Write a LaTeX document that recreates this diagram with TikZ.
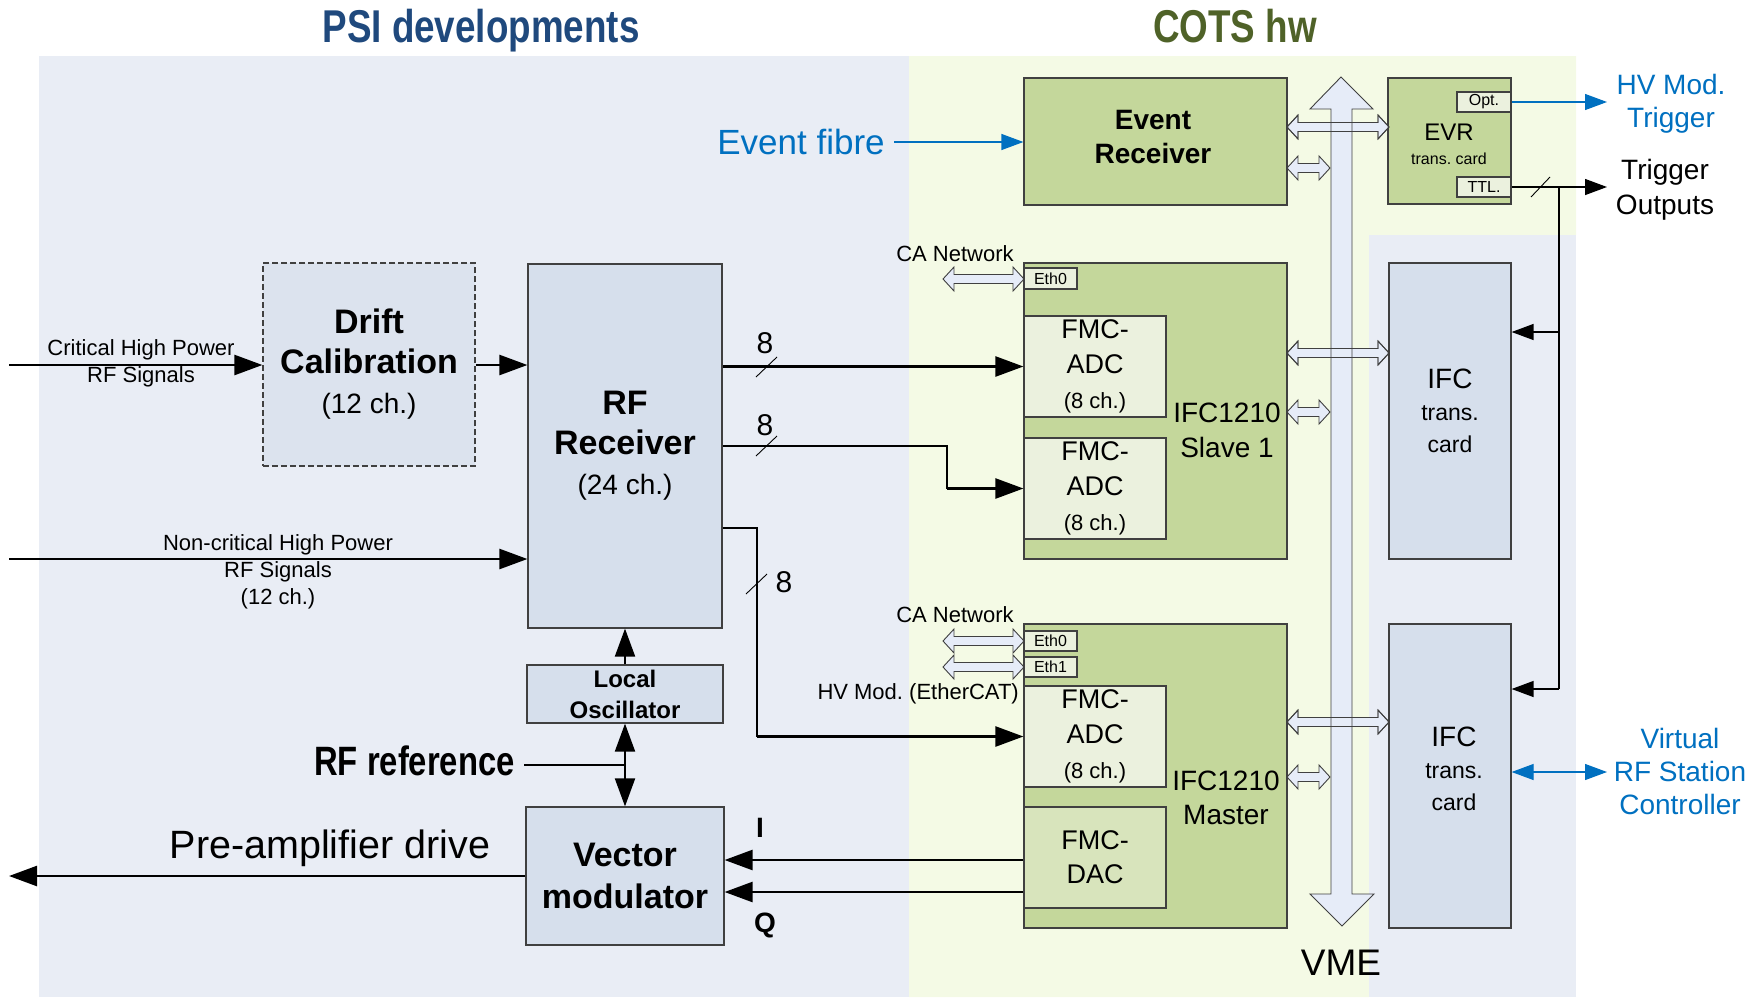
\documentclass[tikz,border=0pt]{standalone}
\usepackage{fontspec}
\setmainfont{Liberation Sans}
\newfontfamily\narrowf[FakeStretch=0.8]{Liberation Sans}
\usetikzlibrary{arrows.meta}
\definecolor{psibg}{RGB}{233,237,245}
\definecolor{cotsbg}{RGB}{244,250,229}
\definecolor{bluebox}{RGB}{214,223,236}
\definecolor{driftbox}{RGB}{220,227,238}
\definecolor{greenbox}{RGB}{196,215,155}
\definecolor{lightgreen}{RGB}{235,241,222}
\definecolor{dacgreen}{RGB}{216,228,188}
\definecolor{arrowfill}{RGB}{230,236,248}
\definecolor{blueline}{RGB}{0,112,192}
\definecolor{titleblue}{RGB}{31,73,125}
\definecolor{titlegreen}{RGB}{79,98,40}
\definecolor{boxline}{RGB}{64,64,64}
\newcommand\fsz[2]{\fontsize{#1}{#2}\selectfont}
\newcommand\hdarrow[4][]{\draw[hollow,#1] (#2,#4) -- (#2+11,#4-12) -- (#2+11,#4-4.5) -- (#3-11,#4-4.5) -- (#3-11,#4-12) -- (#3,#4) -- (#3-11,#4+12) -- (#3-11,#4+4.5) -- (#2+11,#4+4.5) -- (#2+11,#4+12) -- cycle;}
\tikzset{
  box/.style={draw=boxline, line width=1.2pt, inner sep=0pt, align=center},
  bbox/.style={box, fill=bluebox},
  gbox/.style={box, fill=greenbox},
  lbox/.style={box, fill=lightgreen},
  >={Triangle[length=28pt,width=20pt]},
  sig/.style={line width=2.5pt, ->},
  sigline/.style={line width=2.5pt},
  tl/.style={line width=1.3pt, -{Triangle[length=22pt,width=16pt]}},
  bl/.style={draw=blueline, line width=1.2pt, -{Triangle[length=22pt,width=16pt]}},
  hollow/.style={draw=boxline, line width=0.9pt, fill=arrowfill, line join=miter},
  lbl/.style={inner sep=0pt, align=center},
  slash/.style={line width=0.9pt},
}
\frenchspacing
\begin{document}
\begin{tikzpicture}[x=1pt,y=-1pt]
\useasboundingbox (0,0) rectangle (1754,997);
% backgrounds
\fill[psibg] (39,56) rectangle (909,997);
\fill[cotsbg] (909,56) -- (1576,56) -- (1576,235) -- (1369,235) -- (1369,997) -- (909,997) -- cycle;
\fill[psibg] (1369,235) rectangle (1576,997);
% titles
\node[lbl, anchor=base, text=titleblue, font=\narrowf\bfseries\fsz{46}{50}] (t1) at (481,42) {PSI developments};
\node[lbl, anchor=base, text=titlegreen, font=\narrowf\bfseries\fsz{46}{50}] (t2) at (1235,42) {COTS hw};

% COTS boxes
\node[gbox, minimum width=263pt, minimum height=127pt] (er) at (1155.5,141.5) {};
\node[lbl, font=\bfseries\fsz{28}{34}] (ert) at (1153,137) {Event\\Receiver};
\node[gbox, minimum width=123pt, minimum height=126pt] (evr) at (1449.5,141) {};
\node[lbl, font=\fsz{24}{28}] (evrt) at (1449,132) {EVR};
\node[lbl, font=\fsz{16}{20}] (evrt2) at (1449,159) {trans. card};
\node[lbox, minimum width=54pt, minimum height=20pt, font=\fsz{16}{18}] (opt) at (1484,102) {Opt.};
\node[lbox, minimum width=54pt, minimum height=20pt, font=\fsz{16}{18}] (ttl) at (1484,187) {TTL.};

\node[gbox, minimum width=263pt, minimum height=296pt] (slave) at (1155.5,411) {};
\node[lbox, minimum width=53pt, minimum height=21pt, font=\fsz{16}{18}] (eths) at (1050.5,278.5) {Eth0};
\node[lbox, minimum width=142pt, minimum height=101pt, font=\fsz{27}{35}] (adc1) at (1095,366.5) {FMC-\\ADC\\{\fsz{22}{35}(8 ch.)}};
\node[lbox, minimum width=142pt, minimum height=101pt, font=\fsz{27}{35}] (adc2) at (1095,488.5) {FMC-\\ADC\\{\fsz{22}{35}(8 ch.)}};
\node[lbl, font=\fsz{28}{35}] (slavet) at (1227,430) {IFC1210\\Slave 1};

\node[gbox, minimum width=263pt, minimum height=304pt] (master) at (1155.5,776) {};
\node[lbox, minimum width=53pt, minimum height=20pt, font=\fsz{16}{18}] (ethm0) at (1050.5,641) {Eth0};
\node[lbox, minimum width=53pt, minimum height=20pt, font=\fsz{16}{18}] (ethm1) at (1050.5,667) {Eth1};
\node[lbox, minimum width=142pt, minimum height=101pt, font=\fsz{27}{35}] (adc3) at (1095,736.5) {FMC-\\ADC\\{\fsz{22}{35}(8 ch.)}};
\node[box, fill=dacgreen, minimum width=142pt, minimum height=101pt, font=\fsz{27}{34}] (dac) at (1095,857.5) {FMC-\\DAC};
\node[lbl, font=\fsz{28}{34}] (mastert) at (1226,798) {IFC1210\\Master};

\node[bbox, minimum width=122pt, minimum height=296pt, font=\fsz{23}{32}] (ifc1) at (1450,411) {{\fsz{28}{32}IFC}\\trans.\\card};
\node[bbox, minimum width=122pt, minimum height=304pt] (ifc2) at (1450,776) {};
\node[lbl, font=\fsz{23}{32}] (ifc2t) at (1454,769) {{\fsz{28}{32}IFC}\\trans.\\card};

% PSI boxes
\node[bbox, minimum width=194pt, minimum height=364pt, font=\fsz{28}{40}] (rf) at (625,446) {{\bfseries\fsz{34}{40}RF}\\{\bfseries\fsz{34}{40}Receiver}\\(24 ch.)};
\node[box, fill=driftbox, dashed, dash pattern=on 6pt off 3pt, minimum width=212pt, minimum height=203pt, font=\fsz{28}{40}] (drift) at (369,364.5) {{\bfseries\fsz{34}{40}Drift}\\{\bfseries\fsz{34}{40}Calibration}\\(12 ch.)};
\node[bbox, minimum width=196pt, minimum height=58pt, font=\bfseries\fsz{24}{31}] (lo) at (625,694) {Local\\Oscillator};
\node[bbox, minimum width=198pt, minimum height=138pt, font=\bfseries\fsz{34}{42}] (vm) at (625,876) {Vector\\modulator};

% hollow arrows (short)
\hdarrow{1287}{1330}{168}
\hdarrow{943}{1024}{279}
\hdarrow{1287}{1330}{412}
\hdarrow{943}{1024}{641}
\hdarrow{943}{1024}{667}
\hdarrow{1287}{1330}{777}
% hollow arrows (long, across bus)
\hdarrow{1287}{1389}{127}
\hdarrow{1287}{1389}{353}
\hdarrow{1287}{1389}{722}
% VME bus
\draw[hollow] (1341,77) -- (1373,109) -- (1352,109) -- (1352,894) -- (1374,894) -- (1342,926) -- (1310,894) -- (1331,894) -- (1331,109) -- (1310,109) -- cycle;
\hdarrow[fill=none]{1287}{1389}{127}
\hdarrow[fill=none]{1287}{1389}{353}
\hdarrow[fill=none]{1287}{1389}{722}
\node[lbl, font=\fsz{37}{40}] (vme) at (1341,963) {VME};

% labels near Ethernet ports
\node[lbl, font=\fsz{22}{26}] (ca1) at (955,254) {CA Network};
\node[lbl, font=\fsz{22}{26}] (ca2) at (955,615) {CA Network};
\node[lbl, font=\fsz{22}{26}, anchor=east] (hvcat) at (1019,694) {HV Mod. (EtherCAT)};

% input signals
\coordinate (critin) at (9,365);
\coordinate (ncritin) at (9,559);
\draw[sig] (critin) -- (critin -| drift.west);
\node[lbl, font=\fsz{22}{27}] (critl) at (141,363) {Critical High Power\\RF Signals};
\draw[sig] (drift.east |- critin) -- (critin -| rf.west);
\draw[sig] (ncritin) -- (ncritin -| rf.west);
\node[lbl, font=\fsz{22}{27}] (ncritl) at (278,572) {Non-critical High Power\\RF Signals\\(12 ch.)};

% RF receiver to FMC-ADCs
\draw[sig] (rf.east |- adc1.west) -- (adc1.west);
\draw[sigline] (rf.east |- 0,446) -- (947,446) -- (947,488.5);
\draw[sig] (947,488.5) -- (adc2.west);
\draw[sigline] (rf.east |- 0,528) -- (757,528) -- (757,736.5);
\draw[sig] (757,736.5) -- (adc3.west);
\draw[slash] (756,377) -- (777,357);
\draw[slash] (756,456) -- (777,436);
\draw[slash] (746,594) -- (767,574);
\node[lbl, font=\fsz{30}{32}] (n1) at (765,343) {8};
\node[lbl, font=\fsz{30}{32}] (n2) at (765,425) {8};
\node[lbl, font=\fsz{30}{32}] (n3) at (784,582) {8};

% LO, reference, VM
\draw[sig, line width=2pt] (lo.north) -- (rf.south);
\draw[sig, line width=2pt, <->] (lo.south) -- (vm.north);
\coordinate (rfref) at (524,765);
\draw[line width=2pt] (rfref) -- (rfref -| lo.south);
\node[lbl, font=\narrowf\bfseries\fsz{41}{44}, anchor=east] (rfreft) at (515,761) {RF reference};
\draw[sig] (dac.west |- 0,860) -- (vm.east |- 0,860);
\draw[sig] (dac.west |- 0,892) -- (vm.east |- 0,892);
\node[lbl, font=\bfseries\fsz{28}{30}] (il) at (760,828) {I};
\node[lbl, font=\bfseries\fsz{28}{30}] (ql) at (765,925) {Q};
\coordinate (preout) at (9,876);
\draw[sig] (vm.west |- preout) -- (preout);
\node[lbl, font=\fsz{39.5}{42}] (prel) at (330,848) {Pre-amplifier drive};

% event fibre and triggers
\coordinate (evfib) at (894,142);
\draw[bl] (evfib) -- (evfib -| er.west);
\node[lbl, text=blueline, font=\fsz{35}{38}] (evfibt) at (801,142) {Event fibre};
\coordinate (hvtrig) at (1607,102);
\draw[bl] (opt.east) -- (hvtrig);
\node[lbl, text=blueline, font=\fsz{28}{33}] (hvtrigt) at (1671,104) {HV Mod.\\Trigger};
\coordinate (trigout) at (1607,187);
\draw[tl] (ttl.east) -- (trigout);
\draw[slash] (1531,197) -- (1550,177);
\node[lbl, font=\fsz{28}{35}] (trigt) at (1665,190) {Trigger\\Outputs};
\coordinate (tj) at (1559,187);
\draw[line width=1.3pt] (tj) -- (1559,689);
\draw[tl] (1559,689) -- (ifc2.east |- 0,689);
\draw[tl] (1559,332) -- (ifc1.east |- 0,332);
\coordinate (vrf) at (1607,772);
\draw[bl, {Triangle[length=22pt,width=16pt]}-{Triangle[length=22pt,width=16pt]}] (ifc2.east |- vrf) -- (vrf);
\node[lbl, text=blueline, font=\fsz{28}{33}] (vrft) at (1680,771) {Virtual\\RF Station\\Controller};
\end{tikzpicture}
\end{document}
